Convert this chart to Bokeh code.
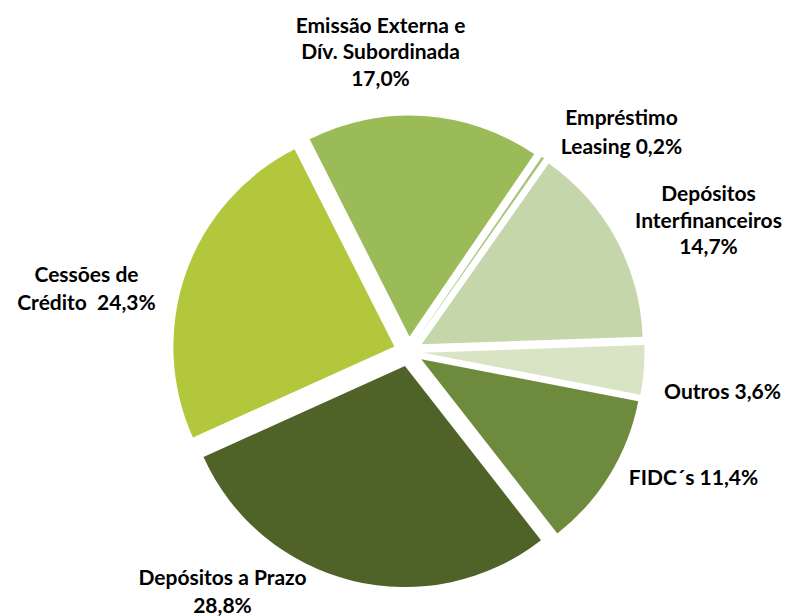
import math
from bokeh.plotting import figure
from bokeh.models import Range1d, ColumnDataSource
from bokeh.core.properties import value
from bokeh.embed import file_html
from bokeh.resources import INLINE

# ---- data ----
categories = ["Depósitos a Prazo", "Cessões de Crédito", "Emissão Externa e Dív. Subordinada",
              "Empréstimo Leasing", "Depósitos Interfinanceiros", "Outros", "FIDC´s"]
shares = [28.8, 24.3, 17.0, 0.2, 14.7, 3.6, 11.4]
label_lines = [
    ["Depósitos a Prazo", "{p}"],
    ["Cessões de", "Crédito \u00a0{p}"],
    ["Emissão Externa e", "Dív. Subordinada", "{p}"],
    ["Empréstimo", "Leasing {p}"],
    ["Depósitos", "Interfinanceiros", "{p}"],
    ["Outros {p}"],
    ["FIDC´s {p}"],
]

# ---- style / layout ----
colors = ["#4F6228", "#B3C73D", "#9BBB59", "#A9C47A", "#C5D6AA", "#D8E4C4", "#6E8B3D"]
W, H = 789, 616
CX, CY = 408, H - 351       # pie centre (data units = px, y up)
R = 221
EXPLODE = 15
FIRST_ANGLE = 142.0         # degrees clockwise from 12 o'clock
TEXT_SHIFT = 8              # compensates baseline placement of svg text
# label block anchor: (centre x, baseline y of first line, line spacing) in page pixels
label_pos = [(222, 584, 27.5), (86, 281, 28), (380, 32, 26.3), (621, 124, 28.5),
             (708, 200, 26.5), (722, 398, 27), (693, 484, 27)]

p = figure(width=W, height=H, x_range=Range1d(0, W), y_range=Range1d(0, H),
           output_backend="svg", toolbar_location=None, min_border=0, title=None,
           x_axis_type=None, y_axis_type=None)
p.grid.visible = False
p.outline_line_color = None
p.background_fill_color = "white"
p.border_fill_color = "white"

total = sum(shares)
xs, ys, starts, ends = [], [], [], []
a = FIRST_ANGLE
for v in shares:
    span = v / total * 360.0
    a1, a2 = a, a + span
    mid = math.radians((a1 + a2) / 2)
    xs.append(CX + EXPLODE * math.sin(mid))
    ys.append(CY + EXPLODE * math.cos(mid))
    starts.append(math.radians(90 - a2))
    ends.append(math.radians(90 - a1))
    a = a2

src = ColumnDataSource(dict(x=xs, y=ys, s=starts, e=ends, c=colors, cat=categories))
p.wedge(x="x", y="y", radius=R, start_angle="s", end_angle="e", fill_color="c",
        line_color=None, direction="anticlock", source=src)

tx, ty, tt = [], [], []
for v, lines, (lx, ly, lh) in zip(shares, label_lines, label_pos):
    pct = ("%.1f" % v).replace(".", ",") + "%"
    for i, ln in enumerate(lines):
        tx.append(lx)
        ty.append(H - (ly + i * lh) + TEXT_SHIFT)
        tt.append(ln.format(p=pct))

p.text(x=tx, y=ty, text=tt, text_font=value("Lato"), text_font_style="bold",
       text_font_size="21px", text_align="center", text_baseline="alphabetic",
       text_color="#000000")

open("out.html", "w").write(file_html(p, INLINE))
